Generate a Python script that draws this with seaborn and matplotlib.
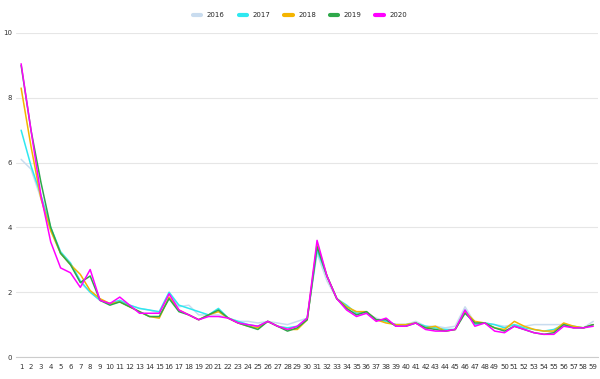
import numpy as np
import pandas as pd
import matplotlib
matplotlib.use('Agg')
import matplotlib.pyplot as plt
import seaborn as sns

# --- data ---
weeks = list(range(1, 60))
years = ['2016', '2017', '2018', '2019', '2020']

v2016 = [6.1, 5.8, 4.9, 3.9, 3.2, 2.9, 2.3, 2.0, 1.75, 1.65, 1.75, 1.6, 1.5, 1.45, 1.35, 1.95, 1.55, 1.6, 1.3, 1.3,
         1.3, 1.2, 1.1, 1.1, 1.05, 1.1, 1.05, 1.0, 1.1, 1.2, 3.2, 2.35, 1.8, 1.5, 1.3, 1.35, 1.2, 1.1, 1.0, 1.0,
         1.1, 0.95, 0.95, 0.9, 0.95, 1.55, 1.05, 1.05, 1.0, 0.95, 1.0, 0.95, 1.0, 1.0, 1.0, 1.0, 0.95, 0.9, 1.1]
v2017 = [7.0, 5.9, 5.0, 4.0, 3.25, 2.9, 2.35, 2.0, 1.75, 1.65, 1.75, 1.6, 1.5, 1.45, 1.4, 2.0, 1.6, 1.5, 1.4, 1.3,
         1.5, 1.2, 1.1, 1.0, 0.95, 1.1, 0.95, 0.9, 0.95, 1.2, 3.3, 2.5, 1.8, 1.6, 1.35, 1.4, 1.15, 1.1, 1.0, 1.0,
         1.05, 0.95, 0.9, 0.85, 0.85, 1.45, 1.0, 1.05, 1.0, 0.9, 1.0, 0.9, 0.85, 0.8, 0.85, 1.0, 0.95, 0.9, 1.0]
v2018 = [8.3, 6.5, 4.9, 3.9, 3.2, 2.85, 2.55, 2.05, 1.8, 1.65, 1.7, 1.55, 1.4, 1.25, 1.2, 1.85, 1.45, 1.3, 1.15, 1.3,
         1.4, 1.2, 1.05, 0.95, 0.9, 1.1, 0.95, 0.85, 0.85, 1.15, 3.5, 2.5, 1.8, 1.55, 1.4, 1.4, 1.15, 1.05, 1.0, 1.0,
         1.05, 0.9, 0.95, 0.8, 0.85, 1.4, 1.1, 1.05, 0.9, 0.85, 1.1, 0.95, 0.85, 0.8, 0.8, 1.05, 0.95, 0.9, 1.0]
v2019 = [9.0, 7.0, 5.4, 4.0, 3.2, 2.85, 2.3, 2.5, 1.75, 1.6, 1.7, 1.55, 1.4, 1.25, 1.25, 1.8, 1.4, 1.3, 1.15, 1.3,
         1.45, 1.2, 1.05, 0.95, 0.85, 1.1, 0.95, 0.8, 0.9, 1.15, 3.4, 2.5, 1.8, 1.5, 1.3, 1.4, 1.15, 1.15, 0.95, 0.95,
         1.05, 0.9, 0.85, 0.8, 0.85, 1.35, 1.05, 1.05, 0.9, 0.8, 0.95, 0.85, 0.75, 0.7, 0.75, 1.0, 0.9, 0.9, 1.0]
v2020 = [9.05, 7.0, 5.0, 3.55, 2.75, 2.6, 2.15, 2.7, 1.75, 1.65, 1.85, 1.6, 1.35, 1.35, 1.35, 1.95, 1.45, 1.3, 1.15, 1.25,
         1.25, 1.2, 1.05, 1.0, 0.95, 1.1, 0.95, 0.85, 0.95, 1.2, 3.6, 2.5, 1.8, 1.45, 1.25, 1.35, 1.1, 1.2, 0.95, 0.95,
         1.05, 0.85, 0.8, 0.8, 0.85, 1.45, 0.95, 1.05, 0.8, 0.75, 0.95, 0.85, 0.75, 0.7, 0.7, 0.95, 0.9, 0.9, 0.95]

colors = ['#c9dcef', '#2ee8f0', '#f4b400', '#2ea84a', '#ff00ff']

df = pd.DataFrame({
    'week': weeks * 5,
    'value': v2016 + v2017 + v2018 + v2019 + v2020,
    'year': [y for y in years for _ in weeks],
})

sns.set_style('white')
fig = plt.figure(figsize=(6, 3.79), dpi=100)
ax = fig.add_axes([0.027, 0.058, 0.970, 0.855])

sns.lineplot(data=df, x='week', y='value', hue='year', palette=colors,
             linewidth=1.1, ax=ax, legend=False)

ax.set_xlim(0.5, 59.5)
ax.set_ylim(0, 10)
ax.set_xticks(weeks)
ax.set_xticklabels([str(w) for w in weeks], fontsize=5, color='#333333')
ax.set_yticks([0, 2, 4, 6, 8, 10])
ax.set_yticklabels(['0', '2', '4', '6', '8', '10'], fontsize=5, color='#333333')
ax.tick_params(axis='x', length=0, pad=5)
ax.tick_params(axis='y', length=0, pad=3)
ax.yaxis.grid(True, color='#e6e6e6', linewidth=0.8)
ax.set_axisbelow(True)
ax.set_xlabel('')
ax.set_ylabel('')
for s in ['left', 'right', 'top']:
    ax.spines[s].set_visible(False)
ax.spines['bottom'].set_color('#cccccc')
ax.spines['bottom'].set_linewidth(0.8)

# legend at the top
handles = [plt.Line2D([0], [0], color=c, linewidth=3) for c in colors]
fig.legend(handles, years, loc='upper center', bbox_to_anchor=(0.5, 0.985), ncol=5,
           frameon=False, fontsize=5, handlelength=1.2, columnspacing=2.0, handletextpad=0.8)

fig.savefig('out.png', dpi=100)
